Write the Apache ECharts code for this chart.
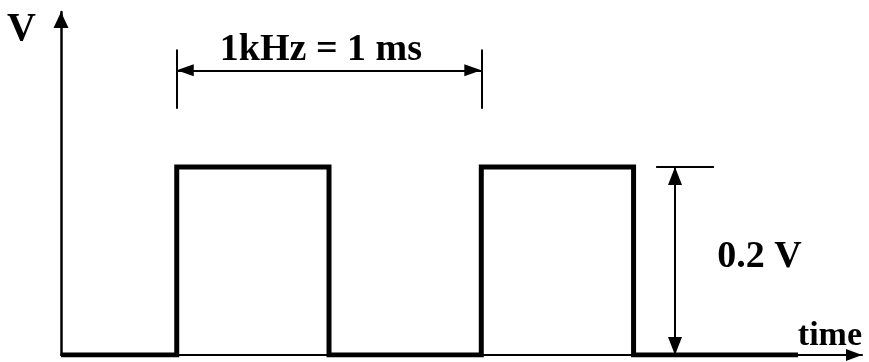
<!DOCTYPE html>
<html>
<head>
<meta charset="utf-8">
<script src="https://cdn.jsdelivr.net/npm/echarts@6/dist/echarts.min.js"></script>
<style>
  html, body { margin: 0; padding: 0; background: #fff; }
  #chart { width: 869px; height: 362px; }
</style>
</head>
<body>
<div id="chart"></div>
<script>
// square wave, time in ms, level in V
const waveTime = [0, 0.38, 0.38, 0.88, 0.88, 1.38, 1.38, 1.88, 1.88, 2.42];
const waveVolt = [0, 0, 0.2, 0.2, 0, 0, 0.2, 0.2, 0, 0];

const timeMax = 2.63;
const voltMax = 0.365;

// period dimension (from rise to next rise)
const periodFrom = 0.38;
const periodTo = 1.38;
const periodArrowY = 0.303;
const periodTickLow = 0.262;
const periodTickHigh = 0.325;
const periodText = '1kHz = 1 ms';
const periodTextPos = [0.855, 0.3235];

// amplitude dimension
const ampX = 2.016;
const ampHigh = 0.2;
const ampTickFrom = 1.954;
const ampTickTo = 2.144;
const ampText = '0.2 V';
const ampTextPos = [2.295, 0.1032];

const FONT = { fontFamily: 'Liberation Serif', fontWeight: 'bold', color: '#000' };

const chart = echarts.init(document.getElementById('chart'), null, { renderer: 'canvas' });

const wave = waveTime.map((t, i) => [t, waveVolt[i]]);

const thin = { color: '#000', width: 2, type: 'solid', opacity: 1 };

function arrowEnd(coord, size) {
    return { coord: coord, symbol: 'triangle', symbolSize: size, symbolOffset: [0, size[1] / 2] };
}

chart.setOption({
    animation: false,
    grid: { left: 61, right: 7, top: 12, bottom: 7 },
    xAxis: {
        type: 'value', min: 0, max: timeMax,
        name: 'time', nameLocation: 'end', nameGap: 0,
        nameTextStyle: Object.assign({ fontSize: 34, align: 'right', verticalAlign: 'bottom', padding: [0, 0, 2, 0] }, FONT),
        axisLine: {
            show: true, onZero: false,
            symbol: ['none', 'triangle'], symbolSize: [12, 16], symbolOffset: [0, -8],
            lineStyle: { color: '#000', width: 2 }
        },
        axisTick: { show: false }, axisLabel: { show: false }, splitLine: { show: false }
    },
    yAxis: {
        type: 'value', min: 0, max: voltMax,
        name: 'V', nameLocation: 'end', nameGap: 2,
        nameTextStyle: Object.assign({ fontSize: 40, align: 'right', verticalAlign: 'top', padding: [0, 25, 0, 0] }, FONT),
        axisLine: {
            show: true, onZero: false,
            symbol: ['none', 'triangle'], symbolSize: [15, 16], symbolOffset: [0, -8],
            lineStyle: { color: '#000', width: 2.5 }
        },
        axisTick: { show: false }, axisLabel: { show: false }, splitLine: { show: false }
    },
    series: [
        {
            type: 'line',
            data: wave,
            symbol: 'none',
            lineStyle: { color: '#000', width: 5, join: 'miter', cap: 'butt' },
            z: 3
        },
        {
            // dimension lines
            type: 'line',
            data: [],
            markLine: {
                silent: true,
                animation: false,
                label: { show: false },
                lineStyle: thin,
                symbol: 'none',
                emphasis: { disabled: true },
                data: [
                    [{ coord: [periodFrom, periodTickLow] }, { coord: [periodFrom, periodTickHigh] }],
                    [{ coord: [periodTo, periodTickLow] }, { coord: [periodTo, periodTickHigh] }],
                    [{ coord: [ampTickFrom, ampHigh] }, { coord: [ampTickTo, ampHigh] }],
                    [arrowEnd([periodFrom, periodArrowY], [12, 17]), arrowEnd([periodTo, periodArrowY], [12, 17])],
                    [arrowEnd([ampX, 0], [14, 18]), arrowEnd([ampX, ampHigh], [14, 18])]
                ]
            }
        },
        {
            type: 'scatter',
            symbolSize: 1,
            itemStyle: { opacity: 0 },
            clip: false,
            silent: true,
            data: [
                { value: periodTextPos, label: { formatter: periodText } },
                { value: ampTextPos, label: { formatter: ampText } }
            ],
            label: Object.assign({
                show: true, position: [0, 0], align: 'center', verticalAlign: 'middle',
                fontSize: 38, opacity: 1, textBorderWidth: 0
            }, FONT)
        }
    ]
});
</script>
</body>
</html>
